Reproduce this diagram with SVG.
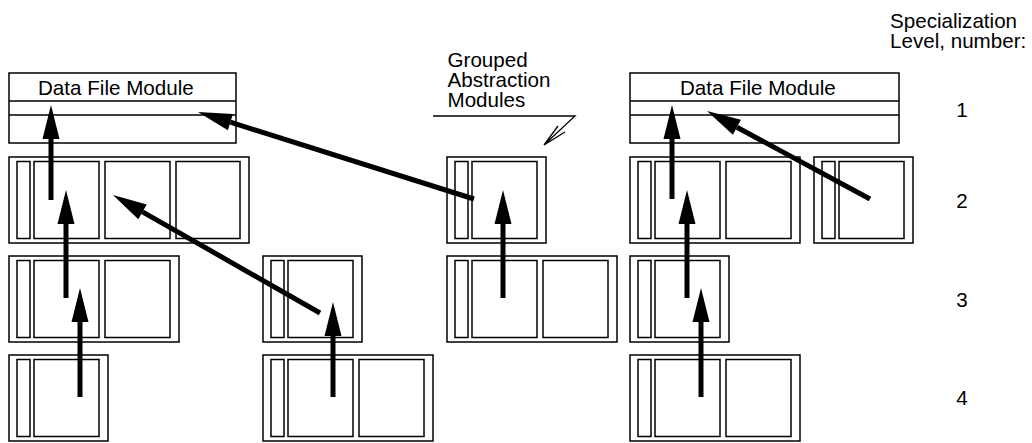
<svg xmlns="http://www.w3.org/2000/svg" width="1032" height="443" viewBox="0 0 1032 443">
  <style>
    .frame { fill: #fff; stroke: #000; stroke-width: 1.5; }
    .cell { fill: none; stroke: #000; stroke-width: 1.5; }
    .rule { stroke: #000; stroke-width: 1.5; }
    .lbl { font-family: "Liberation Sans", Arial, sans-serif; font-size: 20.6px; fill: #000; }
    .num { font-family: "Liberation Sans", Arial, sans-serif; font-size: 20.6px; fill: #000; text-anchor: middle; }
    .arrow { stroke: #000; stroke-width: 5; fill: none; marker-end: url(#head); }
    .leader { stroke: #000; stroke-width: 1.3; fill: none; }
  </style>
  <defs>
    <!-- solid head; the shaft stops at the head's base -->
    <marker id="head" markerUnits="userSpaceOnUse" markerWidth="36" markerHeight="18" refX="0" refY="8.5" orient="auto" overflow="visible">
      <path d="M0,0 L34,8.5 L0,17 Z" fill="#000"/>
    </marker>
    <!-- module frames: narrow tag cell plus 1, 2 or 3 square cells -->
    <g id="m1">
      <rect class="frame" x="0" y="0" width="99" height="86"/>
      <rect class="cell" x="8" y="4.5" width="13" height="77"/>
      <rect class="cell" x="25" y="4.5" width="65" height="77"/>
    </g>
    <g id="m2">
      <rect class="frame" x="0" y="0" width="170" height="86"/>
      <rect class="cell" x="8" y="4.5" width="13" height="77"/>
      <rect class="cell" x="25" y="4.5" width="65" height="77"/>
      <rect class="cell" x="96" y="4.5" width="65" height="77"/>
    </g>
    <g id="m3">
      <rect class="frame" x="0" y="0" width="240" height="86"/>
      <rect class="cell" x="8" y="4.5" width="13" height="77"/>
      <rect class="cell" x="25" y="4.5" width="65" height="77"/>
      <rect class="cell" x="96" y="4.5" width="65" height="77"/>
      <rect class="cell" x="167" y="4.5" width="64" height="77"/>
    </g>
  </defs>

  <rect width="1032" height="443" fill="#fff"/>

  <!-- level 1: data file modules -->
  <g id="dfm-left">
    <rect class="frame" x="9" y="73" width="227" height="70"/>
    <line class="rule" x1="9" y1="101" x2="236" y2="101"/>
    <line class="rule" x1="9" y1="115" x2="236" y2="115"/>
    <text class="lbl" x="38" y="94.5">Data File Module</text>
  </g>
  <g id="dfm-right">
    <rect class="frame" x="630" y="73" width="269" height="70"/>
    <line class="rule" x1="630" y1="101" x2="899" y2="101"/>
    <line class="rule" x1="630" y1="115" x2="899" y2="115"/>
    <text class="lbl" x="680" y="94.5">Data File Module</text>
  </g>

  <!-- level 2 -->
  <g id="l2-a"><use href="#m3" x="9" y="157"/></g>
  <g id="l2-grouped"><use href="#m1" x="447" y="157"/></g>
  <g id="l2-c"><use href="#m2" x="630" y="157"/></g>
  <g id="l2-d"><use href="#m1" x="814" y="157"/></g>

  <!-- level 3 -->
  <g id="l3-a"><use href="#m2" x="9" y="256"/></g>
  <g id="l3-b"><use href="#m1" x="263" y="256"/></g>
  <g id="l3-grouped"><use href="#m2" x="447" y="256"/></g>
  <g id="l3-c"><use href="#m1" x="630" y="256"/></g>

  <!-- level 4 -->
  <g id="l4-a"><use href="#m1" x="9" y="355"/></g>
  <g id="l4-b"><use href="#m2" x="263" y="355"/></g>
  <g id="l4-c"><use href="#m2" x="630" y="355"/></g>

  <!-- callout -->
  <g id="grouped-label">
    <text class="lbl" x="447.5" y="66.5">Grouped</text>
    <text class="lbl" x="447.5" y="86.5">Abstraction</text>
    <text class="lbl" x="447.5" y="106.5">Modules</text>
    <path class="leader" d="M433,116 H575 L544,145 M565,132 L544,145 L558,126"/>
  </g>

  <!-- level scale -->
  <g id="levels">
    <text class="lbl" x="890" y="27.5">Specialization</text>
    <text class="lbl" x="890" y="48">Level, number:</text>
    <text class="num" x="962" y="116.7">1</text>
    <text class="num" x="962" y="207.7">2</text>
    <text class="num" x="962" y="306.7">3</text>
    <text class="num" x="962" y="405">4</text>
  </g>

  <!-- specialization links -->
  <g id="connectors">
    <line class="arrow" x1="51" y1="200" x2="51" y2="139"/>
    <line class="arrow" x1="66" y1="298" x2="66" y2="224"/>
    <line class="arrow" x1="80" y1="397" x2="80" y2="322"/>
    <line class="arrow" x1="320" y1="313" x2="142.5" y2="211.8"/>
    <line class="arrow" x1="333" y1="397" x2="333" y2="336"/>
    <line class="arrow" x1="474" y1="199" x2="230.4" y2="122.2"/>
    <line class="arrow" x1="503" y1="298" x2="503" y2="224"/>
    <line class="arrow" x1="672" y1="199" x2="672" y2="139"/>
    <line class="arrow" x1="687" y1="298" x2="687" y2="224"/>
    <line class="arrow" x1="701" y1="397" x2="701" y2="322"/>
    <line class="arrow" x1="870" y1="199" x2="736.9" y2="127.2"/>
  </g>
</svg>
